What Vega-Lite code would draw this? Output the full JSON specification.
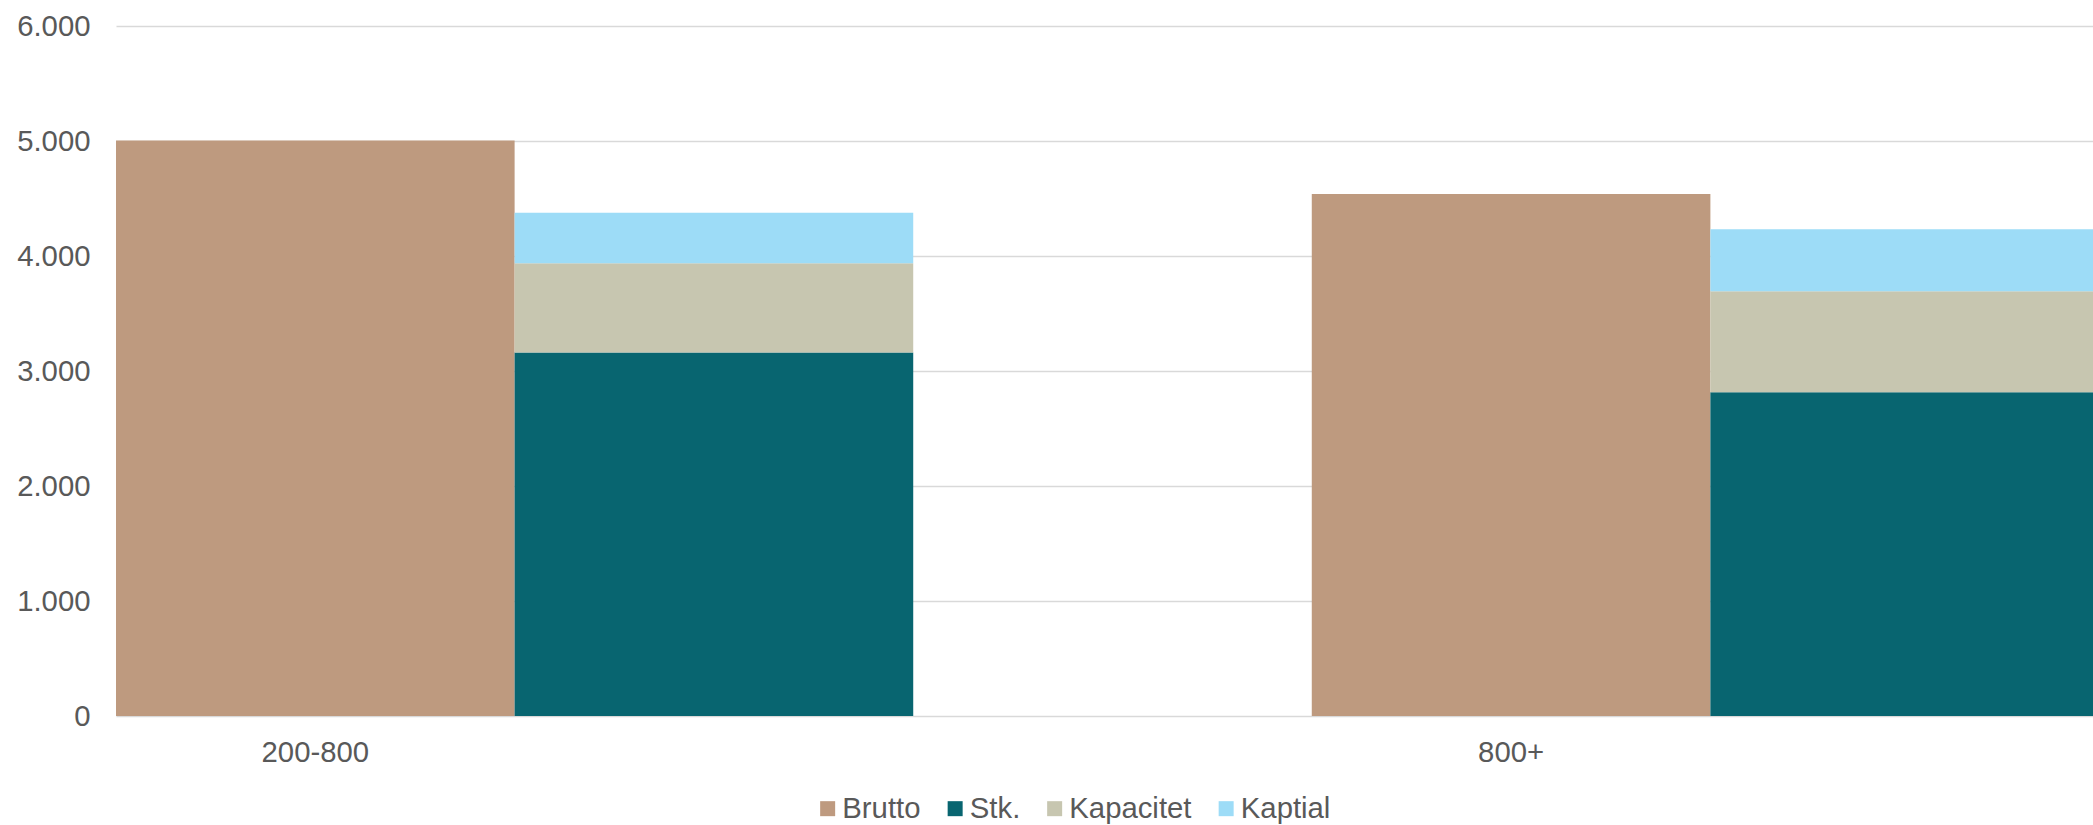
{
  "$schema": "https://vega.github.io/schema/vega-lite/v6.json",
  "width": 1977,
  "height": 690,
  "autosize": {"type": "none"},
  "padding": {"left": 116, "top": 26, "right": 0, "bottom": 109},
  "background": "white",
  "config": {
    "view": {"stroke": null},
    "font": "Liberation Sans",
    "axis": {"labelFont": "Liberation Sans", "labelColor": "#595959", "labelFontSize": 29.3}
  },
  "data": {
    "values": [
      {"group": "200-800", "bar": "Brutto", "series": "Brutto", "stackOrder": 0, "value": 5005},
      {"group": "200-800", "bar": "Fordeling", "series": "Stk.", "stackOrder": 1, "value": 3160},
      {"group": "200-800", "bar": "Fordeling", "series": "Kapacitet", "stackOrder": 2, "value": 777},
      {"group": "200-800", "bar": "Fordeling", "series": "Kaptial", "stackOrder": 3, "value": 440},
      {"group": "800+", "bar": "Brutto", "series": "Brutto", "stackOrder": 0, "value": 4540},
      {"group": "800+", "bar": "Fordeling", "series": "Stk.", "stackOrder": 1, "value": 2815},
      {"group": "800+", "bar": "Fordeling", "series": "Kapacitet", "stackOrder": 2, "value": 878},
      {"group": "800+", "bar": "Fordeling", "series": "Kaptial", "stackOrder": 3, "value": 539}
    ]
  },
  "mark": {"type": "bar", "clip": true},
  "encoding": {
    "x": {
      "field": "group",
      "type": "nominal",
      "sort": ["200-800", "800+"],
      "scale": {"domain": ["200-800", "800+"], "range": [0, 1993], "paddingInner": 0.3333, "paddingOuter": 0},
      "axis": {
        "title": null,
        "domain": false,
        "ticks": false,
        "grid": false,
        "labelAngle": 0,
        "labelOffset": -199.3,
        "labelPadding": 22
      }
    },
    "xOffset": {
      "field": "bar",
      "type": "nominal",
      "sort": ["Brutto", "Fordeling"],
      "scale": {"domain": ["Brutto", "Fordeling"], "paddingInner": 0, "paddingOuter": 0}
    },
    "y": {
      "field": "value",
      "type": "quantitative",
      "stack": "zero",
      "scale": {"domain": [0, 6000], "nice": false},
      "axis": {
        "title": null,
        "domain": false,
        "ticks": false,
        "values": [0, 1000, 2000, 3000, 4000, 5000, 6000],
        "gridColor": "#d9d9d9",
        "gridWidth": 1.5,
        "labelPadding": 26,
        "labelExpr": "replace(format(datum.value, ','), ',', '.')"
      }
    },
    "order": {"field": "stackOrder", "type": "quantitative", "sort": "ascending"},
    "color": {
      "field": "series",
      "type": "nominal",
      "sort": ["Brutto", "Stk.", "Kapacitet", "Kaptial"],
      "scale": {
        "domain": ["Brutto", "Stk.", "Kapacitet", "Kaptial"],
        "range": ["#BE9A7F", "#086570", "#C7C6B0", "#9DDCF7"]
      },
      "legend": {
        "title": null,
        "orient": "none",
        "direction": "horizontal",
        "legendX": 697,
        "legendY": 768,
        "padding": 0,
        "symbolType": "square",
        "symbolSize": 225,
        "symbolStrokeWidth": 0,
        "labelOffset": 0,
        "columnPadding": 19.5,
        "labelFont": "Liberation Sans",
        "labelFontSize": 29.3,
        "labelColor": "#595959",
        "labelLimit": 400
      }
    }
  }
}
